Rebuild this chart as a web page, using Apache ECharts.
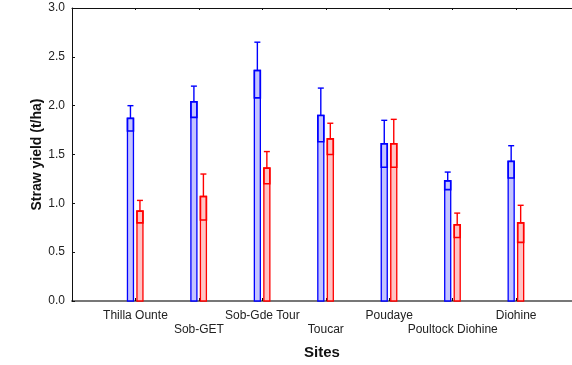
<!DOCTYPE html>
<html>
<head>
<meta charset="utf-8">
<script src="https://cdn.jsdelivr.net/npm/echarts@6/dist/echarts.min.js"></script>
<style>
  html, body { margin: 0; padding: 0; background: #fff; }
  #chart { width: 572px; height: 365px; }
</style>
</head>
<body>
<div id="chart"></div>
<script>
// sites along x
const sites = ['Thilla Ounte', 'Sob-GET', 'Sob-Gde Tour', 'Toucar', 'Poudaye', 'Poultock Diohine', 'Diohine']
// blue series: mean, lower / upper error limits (t/ha)
const blueMean = [1.87, 2.04, 2.36, 1.90, 1.61, 1.23, 1.43]
const blueLow = [1.74, 1.88, 2.08, 1.63, 1.37, 1.14, 1.26]
const blueHigh = [2.00, 2.20, 2.65, 2.18, 1.85, 1.32, 1.59]
// red series
const redMean = [0.92, 1.07, 1.36, 1.66, 1.61, 0.78, 0.80]
const redLow = [0.80, 0.83, 1.20, 1.50, 1.37, 0.65, 0.60]
const redHigh = [1.03, 1.30, 1.53, 1.82, 1.86, 0.90, 0.98]

const chart = echarts.init(document.getElementById('chart'))

const makeRender = (offset, stroke, fill) => (params, api) => {
  const x = api.value(0)
  const base = api.coord([x, 0])
  const top = api.coord([x, api.value(1)])
  const lo = api.coord([x, api.value(2)])
  const hi = api.coord([x, api.value(3)])
  const cx = base[0] + offset
  const w = 6
  return {
    type: 'group',
    children: [
      { type: 'rect', shape: { x: cx - w / 2, y: top[1], width: w, height: base[1] - top[1] },
        style: { fill: fill, stroke: stroke, lineWidth: 1.3 } },
      { type: 'rect', shape: { x: cx - w / 2, y: top[1], width: w, height: lo[1] - top[1] },
        style: { fill: 'none', stroke: stroke, lineWidth: 1.6 } },
      { type: 'line', shape: { x1: cx, y1: top[1], x2: cx, y2: hi[1] },
        style: { stroke: stroke, lineWidth: 1.4 } },
      { type: 'line', shape: { x1: cx - w / 2, y1: hi[1], x2: cx + w / 2, y2: hi[1] },
        style: { stroke: stroke, lineWidth: 1.4 } },
    ],
  }
}

const option = {
  animation: false,
  grid: { left: 72, right: 0, top: 8, bottom: 60 },
  xAxis: [
    {
      type: 'value',
      min: 0,
      max: 7.88,
      interval: 1,
      name: 'Sites',
      nameLocation: 'middle',
      nameGap: 44,
      nameMoveOverlap: false,
      nameTextStyle: { fontFamily: 'Liberation Sans', fontWeight: 'bold', fontSize: 15, color: '#111' },
      axisLine: { lineStyle: { color: '#777', width: 2 } },
      axisTick: { inside: true, length: 3, lineStyle: { color: '#111' } },
      splitLine: { show: false },
      axisLabel: {
        showMaxLabel: false,
        margin: 8,
        fontFamily: 'Liberation Sans',
        fontSize: 12,
        color: '#222',
        lineHeight: 14,
        formatter: (v) => {
          const i = Math.round(v) - 1
          if (i < 0 || i >= sites.length) return ''
          return i % 2 ? '\n' + sites[i] : sites[i]
        },
      },
    },
    {
      type: 'value',
      position: 'top',
      min: 0,
      max: 7.88,
      interval: 1,
      axisLine: { lineStyle: { color: '#111', width: 1 } },
      axisTick: { inside: true, length: 2, lineStyle: { color: '#111' } },
      axisLabel: { show: false },
      splitLine: { show: false },
    },
  ],
  yAxis: {
    type: 'value',
    min: 0,
    max: 3,
    interval: 0.5,
    name: 'Straw yield (t/ha)',
    nameLocation: 'middle',
    nameGap: 28,
    nameMoveOverlap: false,
    nameTextStyle: { fontFamily: 'Liberation Sans', fontWeight: 'bold', fontSize: 14, color: '#111' },
    axisLine: { show: true, lineStyle: { color: '#111', width: 1 } },
    axisTick: { show: true, inside: true, length: 3, lineStyle: { color: '#111' } },
    splitLine: { show: false },
    axisLabel: {
      margin: 7,
      fontFamily: 'Liberation Sans',
      fontSize: 12,
      color: '#222',
      formatter: (v) => v.toFixed(1),
    },
  },
  series: [
    {
      type: 'custom',
      renderItem: makeRender(-5, '#0000ff', '#c4c4ff'),
      data: sites.map((s, i) => [i + 1, blueMean[i], blueLow[i], blueHigh[i]]),
      encode: { x: 0, y: [1, 2, 3] },
    },
    {
      type: 'custom',
      renderItem: makeRender(4.5, '#ff0000', '#ffc4c4'),
      data: sites.map((s, i) => [i + 1, redMean[i], redLow[i], redHigh[i]]),
      encode: { x: 0, y: [1, 2, 3] },
    },
  ],
}

chart.setOption(option)
</script>
</body>
</html>
